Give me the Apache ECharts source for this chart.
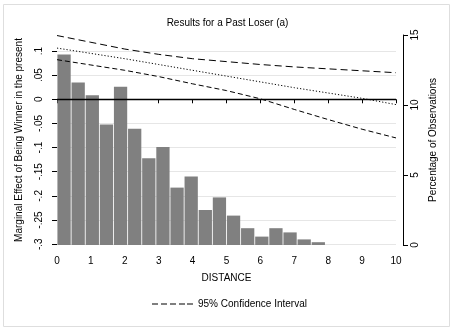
<!DOCTYPE html>
<html>
<head>
<meta charset="utf-8">
<script src="https://cdn.jsdelivr.net/npm/echarts@6/dist/echarts.min.js"></script>
<style>html,body{margin:0;padding:0;background:#fff;}#c{width:455px;height:331px;}</style>
</head>
<body>
<div id="c"></div>
<script>
// ---- data ----
const distance = [0, 1, 2, 3, 4, 5, 6, 7, 8, 9, 10];
const upperCI  = [0.132, 0.118, 0.104, 0.093, 0.084, 0.078, 0.072, 0.067, 0.063, 0.059, 0.055];
const estimate = [0.106, 0.095, 0.084, 0.072, 0.060, 0.048, 0.036, 0.024, 0.013, 0.002, -0.011];
const lowerCI  = [0.082, 0.071, 0.060, 0.047, 0.032, 0.018, 0.001, -0.021, -0.042, -0.062, -0.080];
const barPct = [13.6, 11.6, 10.7, 8.6, 11.3, 8.3, 6.2, 7.0, 4.1, 4.9, 2.5, 3.4, 2.1, 1.2, 0.6, 1.2, 0.9, 0.4, 0.2];
const binCount = 24;
const leftTicks  = [0.1, 0.05, 0, -0.05, -0.1, -0.15, -0.2, -0.25, -0.3];
const leftLabels = ['.1', '.05', '0', '-.05', '-.1', '-.15', '-.2', '-.25', '-.3'];
const rightTicks = [0, 5, 10, 15];
const xTicks = [0, 1, 2, 3, 4, 5, 6, 7, 8, 9, 10];

const binCats = [];
for (let i = 0; i < binCount; i++) binCats.push('b' + i);
const barData = binCats.map((c, i) => i < barPct.length ? barPct[i] : '-');
const pair = (ys) => distance.map((x, i) => [x, ys[i]]);

const FONT = 'Liberation Sans, Arial, sans-serif';
const chart = echarts.init(document.getElementById('c'), null, {renderer: 'canvas'});
chart.setOption({
  animation: false,
  backgroundColor: '#fff',
  textStyle: {fontFamily: FONT, color: '#000'},
  title: {
    text: 'Results for a Past Loser (a)',
    left: 'center', top: 13,
    textStyle: {fontFamily: FONT, fontSize: 10, fontWeight: 'normal', color: '#000'}
  },
  graphic: [{
    type: 'rect', silent: true, z: -10,
    shape: {x: 3.5, y: 4.5, width: 446, height: 322},
    style: {fill: 'none', stroke: '#dedede', lineWidth: 1}
  }],
  legend: {
    data: [{
      name: '95% Confidence Interval',
      icon: 'path://M0,0h6v1h-6z M9,0h6v1h-6z M18,0h6v1h-6z M27,0h6v1h-6z M35,0h6v1h-6z'
    }],
    left: 147, top: 294,
    itemWidth: 41, itemHeight: 1, itemGap: 4,
    itemStyle: {color: '#000', borderWidth: 0},
    textStyle: {fontFamily: FONT, fontSize: 10, color: '#000'}
  },
  grid: {left: 57, right: 59, top: 35, bottom: 86, containLabel: false},
  xAxis: [{
    type: 'value', min: 0, max: 10, interval: 1,
    offset: 6,
    name: 'DISTANCE', nameLocation: 'middle', nameGap: 22,
    nameTextStyle: {fontFamily: FONT, fontSize: 10, color: '#000'},
    axisLine: {show: false},
    axisTick: {show: true, length: 4, lineStyle: {color: '#000'}},
    axisLabel: {fontFamily: FONT, fontSize: 10, color: '#000', margin: 5,
      formatter: (v) => String(v)},
    splitLine: {show: false}
  }, {
    type: 'category', data: binCats, show: false,
    boundaryGap: true
  }],
  yAxis: [{
    type: 'value', position: 'left',
    min: -0.3017, max: 0.1331,
    offset: 7,
    name: 'Marginal Effect of Being Winner in the present',
    nameLocation: 'middle', nameGap: 26, nameRotate: 90,
    nameTextStyle: {fontFamily: FONT, fontSize: 10, color: '#000'},
    axisLine: {show: false},
    axisTick: {show: true, length: 5, customValues: leftTicks, lineStyle: {color: '#000'}},
    axisLabel: {
      fontFamily: FONT, fontSize: 10, color: '#000', rotate: 90, margin: 6,
      customValues: leftTicks,
      formatter: (v) => {
        let best = 0;
        for (let i = 1; i < leftTicks.length; i++)
          if (Math.abs(leftTicks[i] - v) < Math.abs(leftTicks[best] - v)) best = i;
        return leftLabels[best];
      }
    },
    splitLine: {show: true, lineStyle: {color: '#e6e6e6', width: 1}}
  }, {
    type: 'value', position: 'right',
    min: 0, max: 15, interval: 5,
    offset: 7,
    name: 'Percentage of Observations',
    nameLocation: 'middle', nameGap: 20, nameRotate: 90,
    nameTextStyle: {fontFamily: FONT, fontSize: 10, color: '#000'},
    axisLine: {show: true, lineStyle: {color: '#000', width: 1}},
    axisTick: {show: true, length: 5, lineStyle: {color: '#000'}},
    axisLabel: {fontFamily: FONT, fontSize: 10, color: '#000', rotate: 90, margin: 7},
    splitLine: {show: false}
  }],
  series: [{
    type: 'bar', name: 'Percent',
    xAxisIndex: 1, yAxisIndex: 1,
    data: barData,
    barCategoryGap: '6%',
    itemStyle: {color: '#808080'},
    z: 1
  }, {
    type: 'line', name: 'Upper',
    data: pair(upperCI),
    symbol: 'none', showSymbol: false,
    lineStyle: {color: '#000', width: 1, type: [7, 4]},
    z: 5,
    markLine: {
      silent: true, symbol: 'none',
      label: {show: false},
      lineStyle: {color: '#000', width: 1.3, type: 'solid'},
      data: [{yAxis: 0}]
    }
  }, {
    type: 'line', name: 'Estimate',
    data: pair(estimate),
    symbol: 'none', showSymbol: false,
    lineStyle: {color: '#000', width: 1, type: [1.2, 2]},
    z: 5
  }, {
    type: 'line', name: '95% Confidence Interval',
    data: pair(lowerCI),
    symbol: 'none', showSymbol: false,
    lineStyle: {color: '#000', width: 1, type: [5, 3]},
    z: 5
  }]
});
</script>
</body>
</html>
